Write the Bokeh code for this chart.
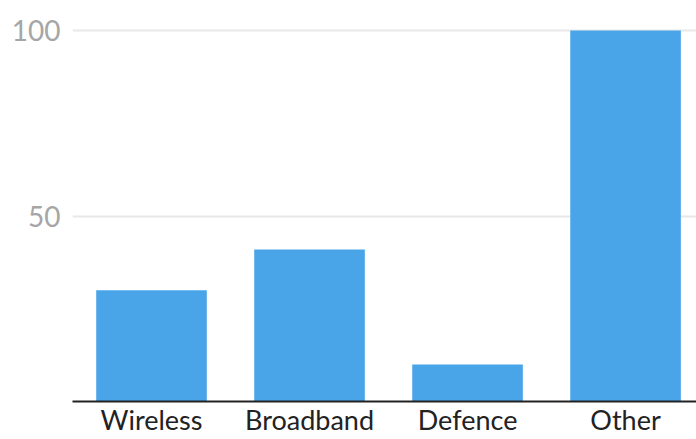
from bokeh.plotting import figure
from bokeh.models import Range1d, FixedTicker, ColumnDataSource
from bokeh.embed import file_html
from bokeh.resources import INLINE

categories = ["Wireless", "Broadband", "Defence", "Other"]
values = [30, 41, 10, 100]
y_ticks = [50, 100]

xs = [i + 0.5 for i in range(len(categories))]
src = ColumnDataSource(dict(x=xs, top=values, cat=categories))

p = figure(width=696, height=439, output_backend="svg", toolbar_location=None,
           x_range=Range1d(0, 3.949), y_range=Range1d(0, 108.1),
           min_border_left=72, min_border_right=0, min_border_top=0, min_border_bottom=38)
p.outline_line_color = None
p.background_fill_color = "white"
p.border_fill_color = "white"

p.vbar(x="x", top="top", width=0.70, bottom=0, source=src,
       fill_color="#4AA5E8", line_color=None)

p.xgrid.grid_line_color = None
p.ygrid.grid_line_color = "#e8e8e8"
p.ygrid.grid_line_width = 2
p.ygrid.ticker = FixedTicker(ticks=y_ticks)

p.yaxis.ticker = FixedTicker(ticks=y_ticks)
p.yaxis.axis_line_color = None
p.yaxis.major_tick_line_color = None
p.yaxis.minor_tick_line_color = None
p.yaxis.major_tick_out = 0
p.yaxis.major_tick_in = 0
p.yaxis.major_label_text_font = "Lato"
p.yaxis.major_label_text_font_size = "28px"
p.yaxis.major_label_text_color = "#a6a6a6"
p.yaxis.major_label_standoff = 12

p.xaxis.ticker = FixedTicker(ticks=xs)
p.xaxis.major_label_overrides = {x: c for x, c in zip(xs, categories)}
p.xaxis.axis_line_color = "#222222"
p.xaxis.axis_line_width = 2
p.xaxis.major_tick_line_color = None
p.xaxis.minor_tick_line_color = None
p.xaxis.major_tick_out = 0
p.xaxis.major_tick_in = 0
p.xaxis.major_label_text_font = "Lato"
p.xaxis.major_label_text_font_size = "27px"
p.xaxis.major_label_text_color = "#222222"
p.xaxis.major_label_standoff = 1

open("out.html", "w").write(file_html(p, INLINE))
